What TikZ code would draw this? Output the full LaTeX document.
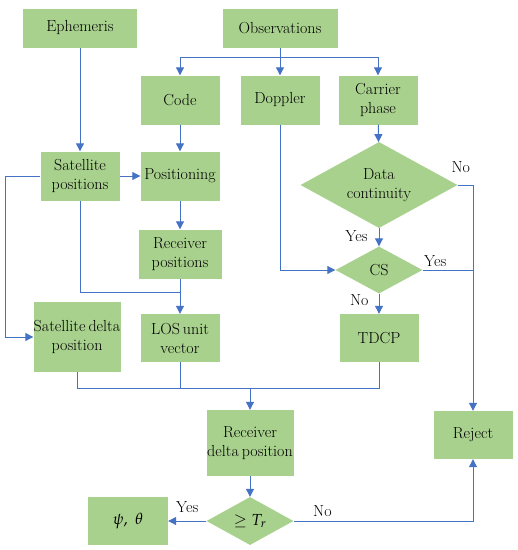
\documentclass[tikz,border=0pt]{standalone}
\usepackage{mathpazo}
\usetikzlibrary{shapes.geometric,arrows.meta}
\definecolor{boxgreen}{HTML}{A9D18E}
\definecolor{lineblue}{HTML}{4472C4}
\begin{document}
\begin{tikzpicture}[x=1pt,y=-1pt,
  every node/.style={font=\fontsize{16}{19}\selectfont},
  box/.style={rectangle,fill=boxgreen,align=center,inner sep=0pt},
  dia/.style={diamond,fill=boxgreen,align=center,inner sep=0pt},
  conn/.style={draw=lineblue,line width=1pt},
  arr/.style={conn,-{Triangle[length=8pt,width=8pt]}},
  lbl/.style={inner sep=1pt}]
\useasboundingbox (0,0) rectangle (518,550);
% boxes
\node[box,minimum width=114pt,minimum height=39pt] (eph) at (80,28) {Ephemeris};
\node[box,minimum width=115pt,minimum height=39pt] (obs) at (280,28) {Observations};
\node[box,minimum width=79pt,minimum height=49pt] (code) at (180,100) {Code};
\node[box,minimum width=79pt,minimum height=49pt] (dop) at (280,100) {Doppler};
\node[box,minimum width=79pt,minimum height=49pt] (car) at (378,100) {Carrier\\phase};
\node[box,minimum width=79pt,minimum height=49pt] (satpos) at (80,176) {Satellite\\positions};
\node[box,minimum width=79pt,minimum height=49pt] (pos) at (180,176) {Positioning};
\node[box,minimum width=83pt,minimum height=49pt] (recpos) at (180,254) {Receiver\\positions};
\node[dia,minimum width=157pt,minimum height=86pt,aspect=1.83] (dc) at (379,185) {Data\\continuity};
\node[dia,minimum width=87pt,minimum height=47pt,aspect=1.85] (cs) at (379,270) {CS};
\node[box,minimum width=79pt,minimum height=48pt] (tdcp) at (379,338) {TDCP};
\node[box,minimum width=87pt,minimum height=70pt] (satdelta) at (77,337) {Satellite\hspace{3pt}delta\\position};
\node[box,minimum width=79pt,minimum height=48pt] (los) at (180,338) {LOS\hspace{3pt}unit\\vector};
\node[box,minimum width=87pt,minimum height=66pt] (rd) at (250,443) {Receiver\\delta\hspace{3pt}position};
\node[box,minimum width=79pt,minimum height=48pt] (rej) at (473,435) {Reject};
\node[dia,minimum width=87pt,minimum height=48pt,aspect=1.8] (tr) at (250,521) {$\geq T_r$};
\node[box,minimum width=80pt,minimum height=48pt] (psi) at (128,521) {$\psi,\ \theta$};
% junctions
\coordinate (j1) at (280,57);
\coordinate (c1) at (5,176);
\coordinate (j2) at (180,292);
\coordinate (j3) at (250,388);
% connectors
\draw[arr] (eph) -- (satpos);
\draw[conn] (obs) -- (j1);
\draw[arr] (j1) -| (code.north);
\draw[arr] (j1) -- (dop.north);
\draw[arr] (j1) -| (car.north);
\draw[arr] (code) -- (pos);
\draw[arr] (satpos) -- (pos);
\draw[arr] (pos) -- (recpos);
\draw[conn] (satpos.west) -- (c1);
\draw[arr] (c1) |- (satdelta.west);
\draw[conn] (satpos.south) |- (j2);
\draw[arr] (recpos) -- (los);
\draw[arr] (dop.south) |- (cs.west);
\draw[arr] (car) -- (dc);
\draw[arr] (dc) -- node[lbl,left,pos=0.45,xshift=-10pt] {Yes} (cs);
\draw[arr] (dc.east) -| node[lbl,pos=0.1,above,yshift=11pt] {No} (rej.north);
\draw[conn] (cs.east) -- node[lbl,above,pos=0.25,yshift=2pt] {Yes} (cs.east -| rej.north);
\draw[arr] (cs) -- node[lbl,left,pos=0.3,xshift=-9pt] {No} (tdcp);
\draw[conn] (satdelta.south) |- (j3);
\draw[conn] (los.south) -- (los.south |- j3);
\draw[conn] (tdcp.south) |- (j3);
\draw[arr] (j3) -- (rd);
\draw[arr] (rd) -- (tr);
\draw[arr] (tr.west) -- node[lbl,above,yshift=7pt] {Yes} (psi.east);
\draw[arr] (tr.east) -| node[lbl,above,pos=0.08,yshift=3pt] {No} (rej.south);
\end{tikzpicture}
\end{document}
